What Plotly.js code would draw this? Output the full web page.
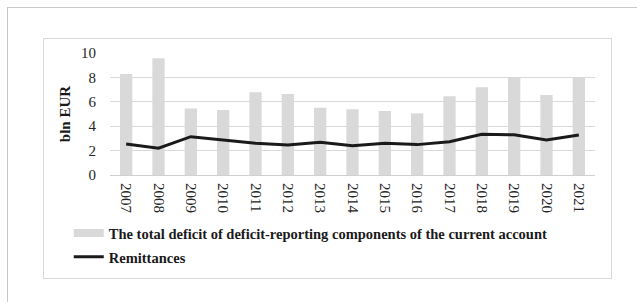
<!DOCTYPE html>
<html><head><meta charset="utf-8">
<script src="https://cdn.plot.ly/plotly-3.0.1.min.js"></script>
<style>
html,body{margin:0;padding:0;background:#fff;}
#wrap{position:relative;width:637px;height:302px;overflow:hidden;}
#chart{position:absolute;left:0;top:0;width:637px;height:302px;}
.frame{position:absolute;pointer-events:none;}
#outer{left:7px;top:7px;width:640px;height:300px;border-left:1px solid #c8c8c8;border-top:1px solid #c8c8c8;}
#inner{left:43px;top:38px;width:567px;height:239px;border:1px solid #d9d9d9;}
</style></head>
<body><div id="wrap"><div id="chart"></div><div id="outer" class="frame"></div><div id="inner" class="frame"></div></div>
<script>
const years = ['2007','2008','2009','2010','2011','2012','2013','2014','2015','2016','2017','2018','2019','2020','2021'];
const deficit = [8.28,9.56,5.46,5.33,6.78,6.64,5.52,5.38,5.25,5.05,6.45,7.19,8.0,6.56,7.98];
const remittances = [2.54,2.19,3.14,2.87,2.6,2.46,2.68,2.4,2.6,2.49,2.73,3.33,3.3,2.87,3.28];
const deficitName = 'The total deficit of deficit-reporting components of the current account';
const remitName = 'Remittances';

const serif = 'Liberation Serif, Times New Roman, serif';
const barColor = '#d9d9d9';
const traces = [
  {type:'bar', x:years, y:deficit, name:deficitName, marker:{color:barColor}, width:0.38, showlegend:false},
  // legend entry for the bars, drawn as a wide swatch like the original
  {type:'scatter', mode:'lines', x:[years[0]], y:[null], name:deficitName, line:{color:barColor, width:8}, legendgroup:'a', hoverinfo:'skip'},
  {type:'scatter', mode:'lines', x:years, y:remittances, name:remitName, line:{color:'#1a1a1a', width:3}, legendgroup:'b'}
];
const layout = {
  width:637, height:302,
  margin:{l:110, r:42, t:53, b:127},
  paper_bgcolor:'rgba(0,0,0,0)', plot_bgcolor:'rgba(0,0,0,0)',
  font:{family:serif, size:15, color:'#262626'},
  showlegend:true,
  legend:{x:-0.085, xanchor:'left', y:-0.345, yanchor:'top', orientation:'v', traceorder:'grouped', tracegroupgap:2,
          font:{family:serif, size:14.5, color:'#1a1a1a', weight:'bold'}, bgcolor:'rgba(0,0,0,0)'},
  xaxis:{type:'category', tickangle:90, showgrid:false, showline:false, ticks:'outside', ticklen:4, tickcolor:'rgba(0,0,0,0)',
         tickfont:{size:15, color:'#262626'}, fixedrange:true},
  yaxis:{range:[0,10], dtick:2, showgrid:true, gridcolor:'#d9d9d9', gridwidth:1, zeroline:true, zerolinecolor:'#d0d0d0', zerolinewidth:1,
         showline:false, ticks:'outside', ticklen:10, tickcolor:'rgba(0,0,0,0)', tickfont:{size:15, color:'#262626'},
         title:{text:'<b>bln EUR</b>', font:{size:15, color:'#1a1a1a'}, standoff:6}, fixedrange:true},
  bargap:0.62
};
Plotly.newPlot('chart', traces, layout, {displayModeBar:false, staticPlot:true});
</script></body></html>
